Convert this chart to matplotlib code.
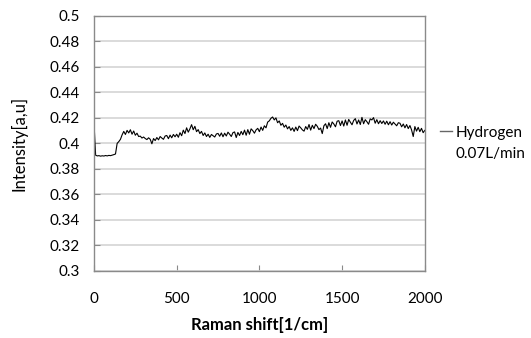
import numpy as np
import matplotlib.pyplot as plt

# Raman spectrum, every 10 1/cm
shift = np.arange(0, 2001, 10)
intensity = [
    0.4160, 0.3905, 0.3900, 0.3902, 0.3898, 0.3901, 0.3899, 0.3903, 0.3900, 0.3904,
    0.3902, 0.3906, 0.3910, 0.3915, 0.3998, 0.4012, 0.4030, 0.4065, 0.4092, 0.4068,
    0.4100, 0.4080, 0.4105, 0.4070, 0.4095, 0.4062, 0.4078, 0.4052, 0.4055, 0.4040,
    0.4048, 0.4036, 0.4028, 0.4042, 0.4030, 0.3995, 0.4036, 0.4020, 0.4044, 0.4026,
    0.4052, 0.4040, 0.4030, 0.4056, 0.4060, 0.4035, 0.4063, 0.4042, 0.4068, 0.4050,
    0.4070, 0.4046, 0.4082, 0.4058, 0.4102, 0.4075, 0.4120, 0.4086, 0.4112, 0.4145,
    0.4105, 0.4132, 0.4090, 0.4106, 0.4075, 0.4092, 0.4060, 0.4080, 0.4052, 0.4070,
    0.4045, 0.4068, 0.4058, 0.4048, 0.4072, 0.4076, 0.4054, 0.4080, 0.4050, 0.4078,
    0.4056, 0.4086, 0.4070, 0.4052, 0.4082, 0.4088, 0.4044, 0.4084, 0.4060, 0.4092,
    0.4066, 0.4102, 0.4062, 0.4106, 0.4070, 0.4112, 0.4098, 0.4078, 0.4104, 0.4116,
    0.4090, 0.4126, 0.4100, 0.4136, 0.4120, 0.4165, 0.4175, 0.4195, 0.4205, 0.4182,
    0.4198, 0.4160, 0.4174, 0.4140, 0.4155, 0.4125, 0.4142, 0.4112, 0.4130, 0.4100,
    0.4120, 0.4092, 0.4126, 0.4098, 0.4134, 0.4120, 0.4104, 0.4094, 0.4130, 0.4108,
    0.4146, 0.4102, 0.4140, 0.4114, 0.4148, 0.4132, 0.4106, 0.4118, 0.4075, 0.4136,
    0.4152, 0.4114, 0.4160, 0.4124, 0.4166, 0.4150, 0.4128, 0.4172, 0.4176, 0.4138,
    0.4174, 0.4134, 0.4182, 0.4140, 0.4186, 0.4164, 0.4144, 0.4178, 0.4192, 0.4150,
    0.4182, 0.4146, 0.4202, 0.4152, 0.4184, 0.4168, 0.4148, 0.4190, 0.4182, 0.4200,
    0.4156, 0.4184, 0.4152, 0.4176, 0.4154, 0.4174, 0.4148, 0.4172, 0.4144, 0.4168,
    0.4142, 0.4164, 0.4150, 0.4136, 0.4160, 0.4156, 0.4128, 0.4150, 0.4120, 0.4146,
    0.4114, 0.4138, 0.4104, 0.4052, 0.4130, 0.4094, 0.4124, 0.4090, 0.4116, 0.4082,
    0.4100,
]
x_ticks = [0, 500, 1000, 1500, 2000]
y_ticks = [0.3, 0.32, 0.34, 0.36, 0.38, 0.4, 0.42, 0.44, 0.46, 0.48, 0.5]
y_labels = ["0.3", "0.32", "0.34", "0.36", "0.38", "0.4", "0.42", "0.44", "0.46", "0.48", "0.5"]

plt.rcParams['font.family'] = ['Lato', 'DejaVu Sans']

fig = plt.figure(figsize=(5.31, 3.38), dpi=100)
ax = fig.add_axes([0.177, 0.199, 0.623, 0.755])

ax.plot(shift, intensity, color='black', lw=0.8, label='Hydrogen')
# second legend line, no key
ax.plot([], [], color='none', label='0.07L/min')

ax.set_xlim(0, 2000)
ax.set_ylim(0.3, 0.5)
ax.set_xticks(x_ticks)
ax.set_yticks(y_ticks)
ax.set_yticklabels(y_labels)
ax.yaxis.grid(True, color='#d4d4d4', lw=1.2)
ax.set_axisbelow(True)
for s in ax.spines.values():
    s.set_color('#8a8a8a')
    s.set_linewidth(1.0)
ax.tick_params(axis='both', direction='in', length=4, color='#8a8a8a', labelsize=11)
ax.tick_params(axis='x', pad=15)
ax.tick_params(axis='y', pad=10)

ax.set_xlabel('Raman shift[1/cm]', fontsize=12, fontweight='bold', labelpad=8)
ax.set_ylabel('Intensity[a,u]', fontsize=12, labelpad=16)

leg = ax.legend(loc='center left', bbox_to_anchor=(1.0, 0.5), frameon=False,
                handlelength=0.8, handletextpad=0.2, labelspacing=0.45,
                borderaxespad=0.6, fontsize=11)
for h in leg.get_lines():
    if h.get_color() != 'none':
        h.set_color('#666666')
        h.set_linewidth(1.0)

fig.savefig('out.png', dpi=100)
